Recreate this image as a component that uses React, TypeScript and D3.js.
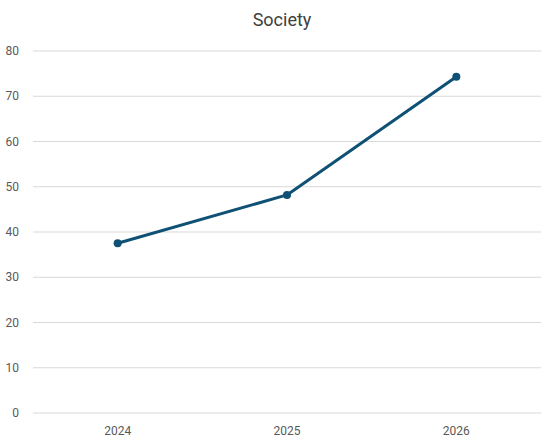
import React from 'react';
import * as d3 from 'd3';

const years = ['2024', '2025', '2026'];
const society = [37.5, 48.2, 74.3];
const yTicks = [0, 10, 20, 30, 40, 50, 60, 70, 80];

export default function App() {
  const width = 555;
  const height = 444;
  const margin = { top: 51, right: 14, bottom: 31, left: 33 };
  const innerW = width - margin.left - margin.right;
  const innerH = height - margin.top - margin.bottom;

  const x = d3.scaleBand<string>().domain(years).range([0, innerW]);
  const y = d3.scaleLinear().domain([0, 80]).range([innerH, 0]);

  const line = d3
    .line<number>()
    .x((_, i) => (x(years[i]) ?? 0) + x.bandwidth() / 2)
    .y(d => y(d));

  const font = 'Roboto, "Open Sans", sans-serif';

  return (
    <svg
      width={width}
      height={height}
      style={{ position: 'absolute', left: 0, top: 0, background: '#fff' }}
    >
      <text
        x={282}
        y={26}
        textAnchor="middle"
        fontFamily={font}
        fontSize={18}
        fill="#404040"
      >
        Society
      </text>
      <g transform={`translate(${margin.left},${margin.top})`}>
        {yTicks.map(t => (
          <g key={t}>
            <line x1={0} x2={innerW} y1={y(t)} y2={y(t)} stroke="#d9d9d9" strokeWidth={1} />
            <text
              x={-14}
              y={y(t)}
              dy="0.35em"
              textAnchor="end"
              fontFamily={font}
              fontSize={12}
              fill="#595959"
            >
              {t}
            </text>
          </g>
        ))}
        {years.map(yr => (
          <text
            key={yr}
            x={(x(yr) ?? 0) + x.bandwidth() / 2}
            y={innerH + 22}
            textAnchor="middle"
            fontFamily={font}
            fontSize={12}
            fill="#595959"
          >
            {yr}
          </text>
        ))}
        <path d={line(society) || ''} fill="none" stroke="#0e5175" strokeWidth={3} strokeLinejoin="round" />
        {society.map((v, i) => (
          <circle
            key={years[i]}
            cx={(x(years[i]) ?? 0) + x.bandwidth() / 2}
            cy={y(v)}
            r={4}
            fill="#0e5175"
          />
        ))}
      </g>
    </svg>
  );
}
